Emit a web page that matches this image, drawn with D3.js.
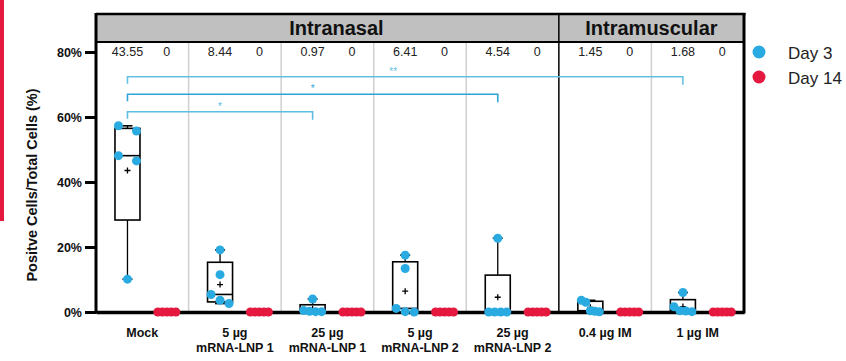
<!DOCTYPE html>
<html>
<head>
<meta charset="utf-8">
<script src="https://cdn.jsdelivr.net/npm/d3@7"></script>
<style>
  body { margin: 0; background: #fff; }
  svg { display: block; font-family: "Liberation Sans", Arial, sans-serif; }
</style>
</head>
<body>
<svg width="846" height="361"></svg>
<script>
(function () {
  // groups along the x axis
  const groups = ["Mock", "5µg LNP1", "25µg LNP1", "5µg LNP2", "25µg LNP2", "0.4µg IM", "1µg IM"];
  const groupLabels = [
    ["Mock"],
    ["5 µg", "mRNA-LNP 1"],
    ["25 µg", "mRNA-LNP 1"],
    ["5 µg", "mRNA-LNP 2"],
    ["25 µg", "mRNA-LNP 2"],
    ["0.4 µg IM"],
    ["1 µg IM"],
  ];
  // individual animals, % positive cells
  const day3 = [
    [57.3, 55.7, 48.1, 46.5, 10.1],
    [19.1, 11.5, 5.4, 3.6, 2.6],
    [4.0, 0.45, 0.2, 0.1, 0.1],
    [17.5, 13.4, 1.1, 0.1, 0.0],
    [22.7, 0, 0, 0, 0],
    [3.6, 3.0, 0.4, 0.2, 0.05],
    [6.0, 1.6, 0.4, 0.3, 0.1],
  ];
  const day14 = [
    [0, 0, 0, 0, 0],
    [0, 0, 0, 0, 0],
    [0, 0, 0, 0, 0],
    [0, 0, 0, 0, 0],
    [0, 0, 0, 0, 0],
    [0, 0, 0, 0, 0],
    [0, 0, 0, 0, 0],
  ];
  const meanDay3 = ["43.55", "8.44", "0.97", "6.41", "4.54", "1.45", "1.68"];
  const meanDay14 = ["0", "0", "0", "0", "0", "0", "0"];
  const yTicks = [0, 20, 40, 60, 80];
  // significance brackets: from group, to group, height (%), label
  const brackets = [
    { from: 0, to: 6, y: 72.4, label: "**", color: "#62c1e3" },
    { from: 0, to: 4, y: 67.0, label: "*", color: "#2ea4d9" },
    { from: 0, to: 2, y: 61.6, label: "*", color: "#5bbde2" },
  ];
  const sections = [
    { name: "Intranasal", from: 0, to: 4 },
    { name: "Intramuscular", from: 5, to: 6 },
  ];
  const series = [
    { name: "Day 3", color: "#29abe2", values: day3, pos: 0.34 },
    { name: "Day 14", color: "#e5183f", values: day14, pos: 0.765 },
  ];

  const svg = d3.select("svg");
  const left = 96, right = 744, top = 14, headerBottom = 42, bottom = 312;
  const r = 4.5, boxW = 25;

  const x = d3.scaleBand().domain(groups).range([left, right]).padding(0);
  const y = d3.scaleLinear().domain([0, 80]).range([bottom, 52]);
  const bw = x.bandwidth();
  const cx = (gi, s) => x(groups[gi]) + bw * s.pos;

  // the red strip on the left edge of the figure
  svg.append("rect").attr("x", 0).attr("y", 0).attr("width", 4).attr("height", 221).attr("fill", "#e5183f");

  // light separators between groups
  svg.append("g")
    .selectAll("line")
    .data(groups.slice(1).filter((g, i) => i + 1 !== 5))
    .join("line")
    .attr("x1", (d) => x(d)).attr("x2", (d) => x(d))
    .attr("y1", headerBottom).attr("y2", bottom)
    .attr("stroke", "#cfcfcf").attr("stroke-width", 1.5);

  // header band
  svg.append("rect")
    .attr("x", left).attr("y", top)
    .attr("width", right - left).attr("height", headerBottom - top)
    .attr("fill", "#c0c0c0");
  svg.append("line").attr("x1", left).attr("x2", right + 1.5).attr("y1", top).attr("y2", top)
    .attr("stroke", "#000").attr("stroke-width", 2.5);
  svg.append("line").attr("x1", left).attr("x2", right).attr("y1", headerBottom).attr("y2", headerBottom)
    .attr("stroke", "#000").attr("stroke-width", 2);
  // section divider
  svg.append("line").attr("x1", x(groups[5])).attr("x2", x(groups[5]))
    .attr("y1", top).attr("y2", bottom)
    .attr("stroke", "#000").attr("stroke-width", 1.5);
  svg.append("g")
    .selectAll("text")
    .data(sections)
    .join("text")
    .attr("x", (d) => (x(groups[d.from]) + x(groups[d.to]) + bw) / 2 + (d.from === 0 ? 9 : 0))
    .attr("y", 35)
    .attr("text-anchor", "middle")
    .attr("font-size", 20).attr("font-weight", "bold").attr("fill", "#111")
    .text((d) => d.name);

  // mean value row
  series.forEach((s, si) => {
    const labels = si === 0 ? meanDay3 : meanDay14;
    svg.append("g")
      .selectAll("text")
      .data(labels)
      .join("text")
      .attr("x", (d, i) => cx(i, s))
      .attr("y", 56)
      .attr("text-anchor", "middle")
      .attr("font-size", 12.5).attr("fill", "#222")
      .text((d) => d);
  });

  // brackets
  const br = svg.append("g").selectAll("g").data(brackets).join("g");
  br.append("path")
    .attr("fill", "none")
    .attr("stroke", (d) => d.color).attr("stroke-width", 1.6)
    .attr("d", (d) => {
      const x1 = cx(d.from, series[0]), x2 = cx(d.to, series[0]), yy = y(d.y);
      return `M${x1},${yy + 7}V${yy}H${x2}V${yy + 8}`;
    });
  br.append("text")
    .attr("x", (d) => (cx(d.from, series[0]) + cx(d.to, series[0])) / 2 - (d.to === 6 ? 12 : 0))
    .attr("y", (d) => y(d.y) - 2)
    .attr("text-anchor", "middle")
    .attr("font-size", 10).attr("fill", (d) => d.color)
    .text((d) => d.label);

  // axes and frame
  const yAxis = svg.append("g")
    .attr("transform", `translate(${left},0)`)
    .call(d3.axisLeft(y).tickValues(yTicks).tickFormat((d) => d + "%").tickSize(11).tickPadding(3));
  yAxis.select(".domain").remove();
  yAxis.selectAll(".tick line").attr("stroke", "#000").attr("stroke-width", 3);
  yAxis.selectAll(".tick text")
    .attr("font-family", "Liberation Sans, Arial, sans-serif")
    .attr("font-size", 12.5).attr("font-weight", "bold").attr("fill", "#111");

  svg.append("line").attr("x1", left).attr("x2", left).attr("y1", top - 1).attr("y2", bottom + 1.5)
    .attr("stroke", "#000").attr("stroke-width", 3);
  svg.append("line").attr("x1", right).attr("x2", right).attr("y1", top - 1).attr("y2", bottom + 1.5)
    .attr("stroke", "#000").attr("stroke-width", 3);

  const xAxis = svg.append("g")
    .attr("transform", `translate(0,${bottom})`)
    .call(d3.axisBottom(x).tickSize(0).tickFormat(""));
  xAxis.select(".domain").attr("stroke", "#000").attr("stroke-width", 3.5);
  xAxis.selectAll(".tick").each(function (d, i) {
    const t = d3.select(this).append("text")
      .attr("text-anchor", "middle")
      .attr("font-family", "Liberation Sans, Arial, sans-serif")
      .attr("font-size", 12.5).attr("font-weight", "bold").attr("fill", "#111");
    groupLabels[i].forEach((line, li) => {
      t.append("tspan").attr("x", 0).attr("y", 25 + li * 15).text(line);
    });
  });

  svg.append("text")
    .attr("transform", `translate(37,185) rotate(-90)`)
    .attr("text-anchor", "middle")
    .attr("font-size", 14.5).attr("font-weight", "bold").attr("fill", "#111")
    .text("Positve Cells/Total Cells (%)");

  // Prism-style quartiles, position p*(n+1)
  function quart(sorted, p) {
    const n = sorted.length, pos = p * (n + 1);
    if (pos <= 1) return sorted[0];
    if (pos >= n) return sorted[n - 1];
    const lo = Math.floor(pos), f = pos - lo;
    return sorted[lo - 1] + f * (sorted[lo] - sorted[lo - 1]);
  }

  // spread points that sit at nearly the same height
  function spread(vals) {
    const pts = vals.map((v) => ({ v, py: y(v) })).sort((a, b) => a.py - b.py);
    const clusters = [];
    pts.forEach((p) => {
      const last = clusters[clusters.length - 1];
      if (last && p.py - last[last.length - 1].py < 2 * r) last.push(p);
      else clusters.push([p]);
    });
    clusters.forEach((c) => {
      const n = c.length;
      const step = n > 1 ? Math.min(18, 18 / (n - 1)) : 0;
      c.forEach((p, i) => (p.dx = (i - (n - 1) / 2) * step));
    });
    return pts;
  }

  const marks = svg.append("g");
  series.forEach((s) => {
    s.values.forEach((vals, gi) => {
      const sorted = vals.slice().sort(d3.ascending);
      const q1 = quart(sorted, 0.25), med = quart(sorted, 0.5), q3 = quart(sorted, 0.75);
      const mn = sorted[0], mx = sorted[sorted.length - 1], mean = d3.mean(sorted);
      const c = cx(gi, s);
      const g = marks.append("g");
      const line = (x1, y1, x2, y2, w) =>
        g.append("line").attr("x1", x1).attr("x2", x2).attr("y1", y1).attr("y2", y2)
          .attr("stroke", "#000").attr("stroke-width", w || 1.3);
      line(c, y(mx), c, y(q3));
      line(c, y(q1), c, y(mn));
      line(c - 5, y(mx), c + 5, y(mx), 1.6);
      line(c - 5, y(mn), c + 5, y(mn), 1.6);
      g.append("rect")
        .attr("x", c - boxW / 2).attr("y", y(q3))
        .attr("width", boxW).attr("height", Math.max(0, y(q1) - y(q3)))
        .attr("fill", "#fff").attr("stroke", "#000").attr("stroke-width", 1.6);
      line(c - boxW / 2, y(med), c + boxW / 2, y(med), 1.6);
      g.append("path")
        .attr("d", `M${c - 3},${y(mean)}H${c + 3}M${c},${y(mean) - 3}V${y(mean) + 3}`)
        .attr("stroke", "#000").attr("stroke-width", 1.3);
      g.selectAll("circle")
        .data(spread(vals))
        .join("circle")
        .attr("cx", (d) => c + d.dx)
        .attr("cy", (d) => d.py)
        .attr("r", r)
        .attr("fill", s.color);
    });
  });

  // legend
  const lg = svg.append("g").selectAll("g").data(series).join("g")
    .attr("transform", (d, i) => `translate(759,${52 + i * 25})`);
  lg.append("circle").attr("r", 6.5).attr("fill", (d) => d.color);
  lg.append("text")
    .attr("x", 29).attr("y", 6.5)
    .attr("font-size", 17).attr("fill", "#222")
    .text((d) => d.name);
})();
</script>
</body>
</html>
